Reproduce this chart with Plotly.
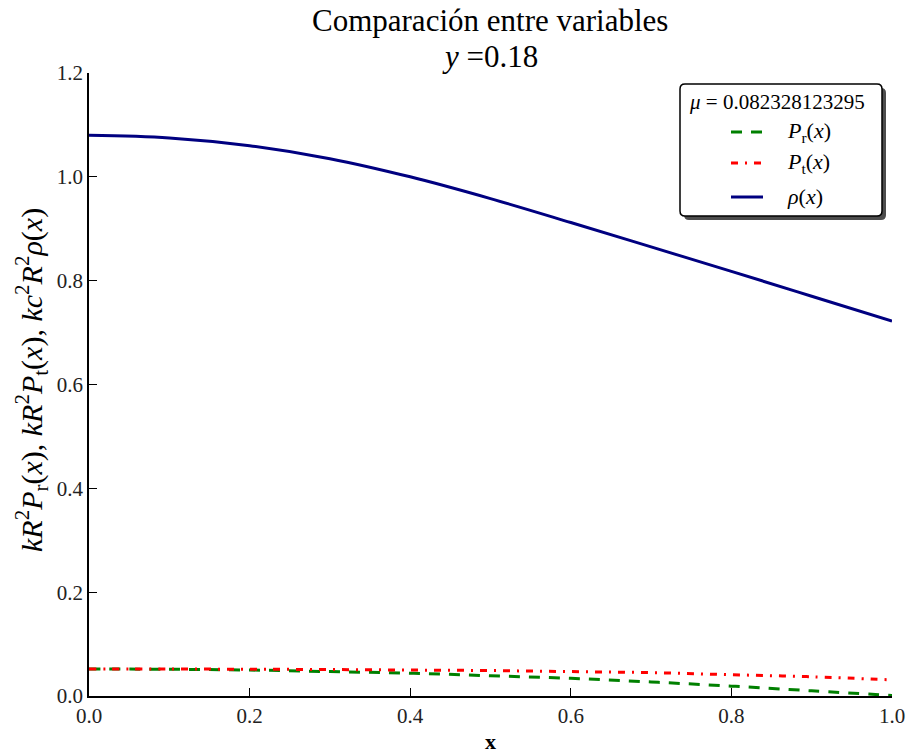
import plotly.graph_objects as go

# Radial coordinate and profiles
x = [0.0, 0.1, 0.2, 0.3, 0.4, 0.5, 0.6, 0.7, 0.8, 0.9, 1.0]
p_r = [0.052, 0.0515, 0.050, 0.047, 0.044, 0.039, 0.034, 0.027, 0.019, 0.010, 0.001]
p_t = [0.052, 0.052, 0.0515, 0.051, 0.050, 0.049, 0.047, 0.045, 0.041, 0.037, 0.031]
rho = [1.080, 1.075, 1.060, 1.035, 1.000, 0.958, 0.912, 0.865, 0.818, 0.770, 0.722]

mu_text = "<i>μ</i> = 0.082328123295"
y_value = "0.18"
x_ticks = [0.0, 0.2, 0.4, 0.6, 0.8, 1.0]
y_ticks = [0.0, 0.2, 0.4, 0.6, 0.8, 1.0, 1.2]

SERIF = "Liberation Serif, DejaVu Serif, serif"
W, H = 907, 753
L, R, T, B = 89, 15, 73, 57

series = [
    ("<i>P</i><sub>r</sub>(<i>x</i>)", p_r, dict(color="#008000", width=3, dash="11px,9px")),
    ("<i>P</i><sub>t</sub>(<i>x</i>)", p_t, dict(color="#ff0000", width=3, dash="7px,7px,2px,7px")),
    ("<i>ρ</i>(<i>x</i>)", rho, dict(color="#000080", width=3)),
]

fig = go.Figure()
for name, ys, line in series:
    fig.add_trace(go.Scatter(x=x, y=ys, mode="lines", line_shape="spline",
                             name=name, line=line, showlegend=False))

axis_common = dict(
    showgrid=False, zeroline=False, showline=True, linecolor="black", linewidth=1.5,
    ticks="inside", ticklen=8, tickwidth=1, tickcolor="black",
    tickfont=dict(family=SERIF, size=21, color="#222"),
    mirror=False, automargin=False,
)

fig.update_layout(
    width=W, height=H,
    paper_bgcolor="white", plot_bgcolor="white",
    margin=dict(l=L, r=R, t=T, b=B),
    xaxis=dict(range=[0, 1], tickvals=x_ticks,
               ticktext=[f"{v:.1f}" for v in x_ticks], **axis_common),
    yaxis=dict(range=[0, 1.2], tickvals=y_ticks,
               ticktext=[f"{v:.1f}" for v in y_ticks], **axis_common),
    showlegend=False,
)


# pixel -> paper coordinate helpers for the decorations
def px(xp):
    return (xp - L) / (W - L - R)


def py(yp):
    return (H - B - yp) / (H - T - B)


def note(text, xp, yp, size, **kw):
    fig.add_annotation(text=text, xref="paper", yref="paper", x=px(xp), y=py(yp),
                       xanchor="center", yanchor="middle", showarrow=False,
                       font=dict(family=SERIF, size=size, color="black"), **kw)


# title lines and axis titles
note("Comparación entre variables", 490, 20, 31)
note("<i>y</i> =" + y_value, 490, 56, 31)
note("<b>x</b>", 490, 741, 22)
note("<i>kR</i><sup>2</sup><i>P</i><sub>r</sub>(<i>x</i>), <i>kR</i><sup>2</sup><i>P</i><sub>t</sub>(<i>x</i>), "
     "<i>kc</i><sup>2</sup><i>R</i><sup>2</sup><i>ρ</i>(<i>x</i>)", 31, 380, 30, textangle=-90)


# legend box with drop shadow and rounded corners
def rounded(x0, y0, x1, y1, r):
    return (f"M {px(x0 + r)} {py(y0)} L {px(x1 - r)} {py(y0)} "
            f"Q {px(x1)} {py(y0)} {px(x1)} {py(y0 + r)} L {px(x1)} {py(y1 - r)} "
            f"Q {px(x1)} {py(y1)} {px(x1 - r)} {py(y1)} L {px(x0 + r)} {py(y1)} "
            f"Q {px(x0)} {py(y1)} {px(x0)} {py(y1 - r)} L {px(x0)} {py(y0 + r)} "
            f"Q {px(x0)} {py(y0)} {px(x0 + r)} {py(y0)} Z")


bx0, by0, bx1, by1 = 680, 84, 882, 216
fig.add_shape(type="path", xref="paper", yref="paper", path=rounded(bx0 + 4, by0 + 4, bx1 + 4, by1 + 4, 5),
              fillcolor="#4d4d4d", line=dict(width=0))
fig.add_shape(type="path", xref="paper", yref="paper", path=rounded(bx0, by0, bx1, by1, 5),
              fillcolor="white", line=dict(color="black", width=1.5))

note(mu_text, 777, 102, 21)
rows = [132, 163, 197]
for (name, _, line), yr in zip(series, rows):
    fig.add_shape(type="line", xref="paper", yref="paper",
                  x0=px(731), x1=px(763), y0=py(yr), y1=py(yr), line=line)
    fig.add_annotation(text=name, xref="paper", yref="paper", x=px(785), y=py(yr),
                       xanchor="left", yanchor="middle", showarrow=False,
                       font=dict(family=SERIF, size=22, color="black"))

fig.write_html("out.html")
